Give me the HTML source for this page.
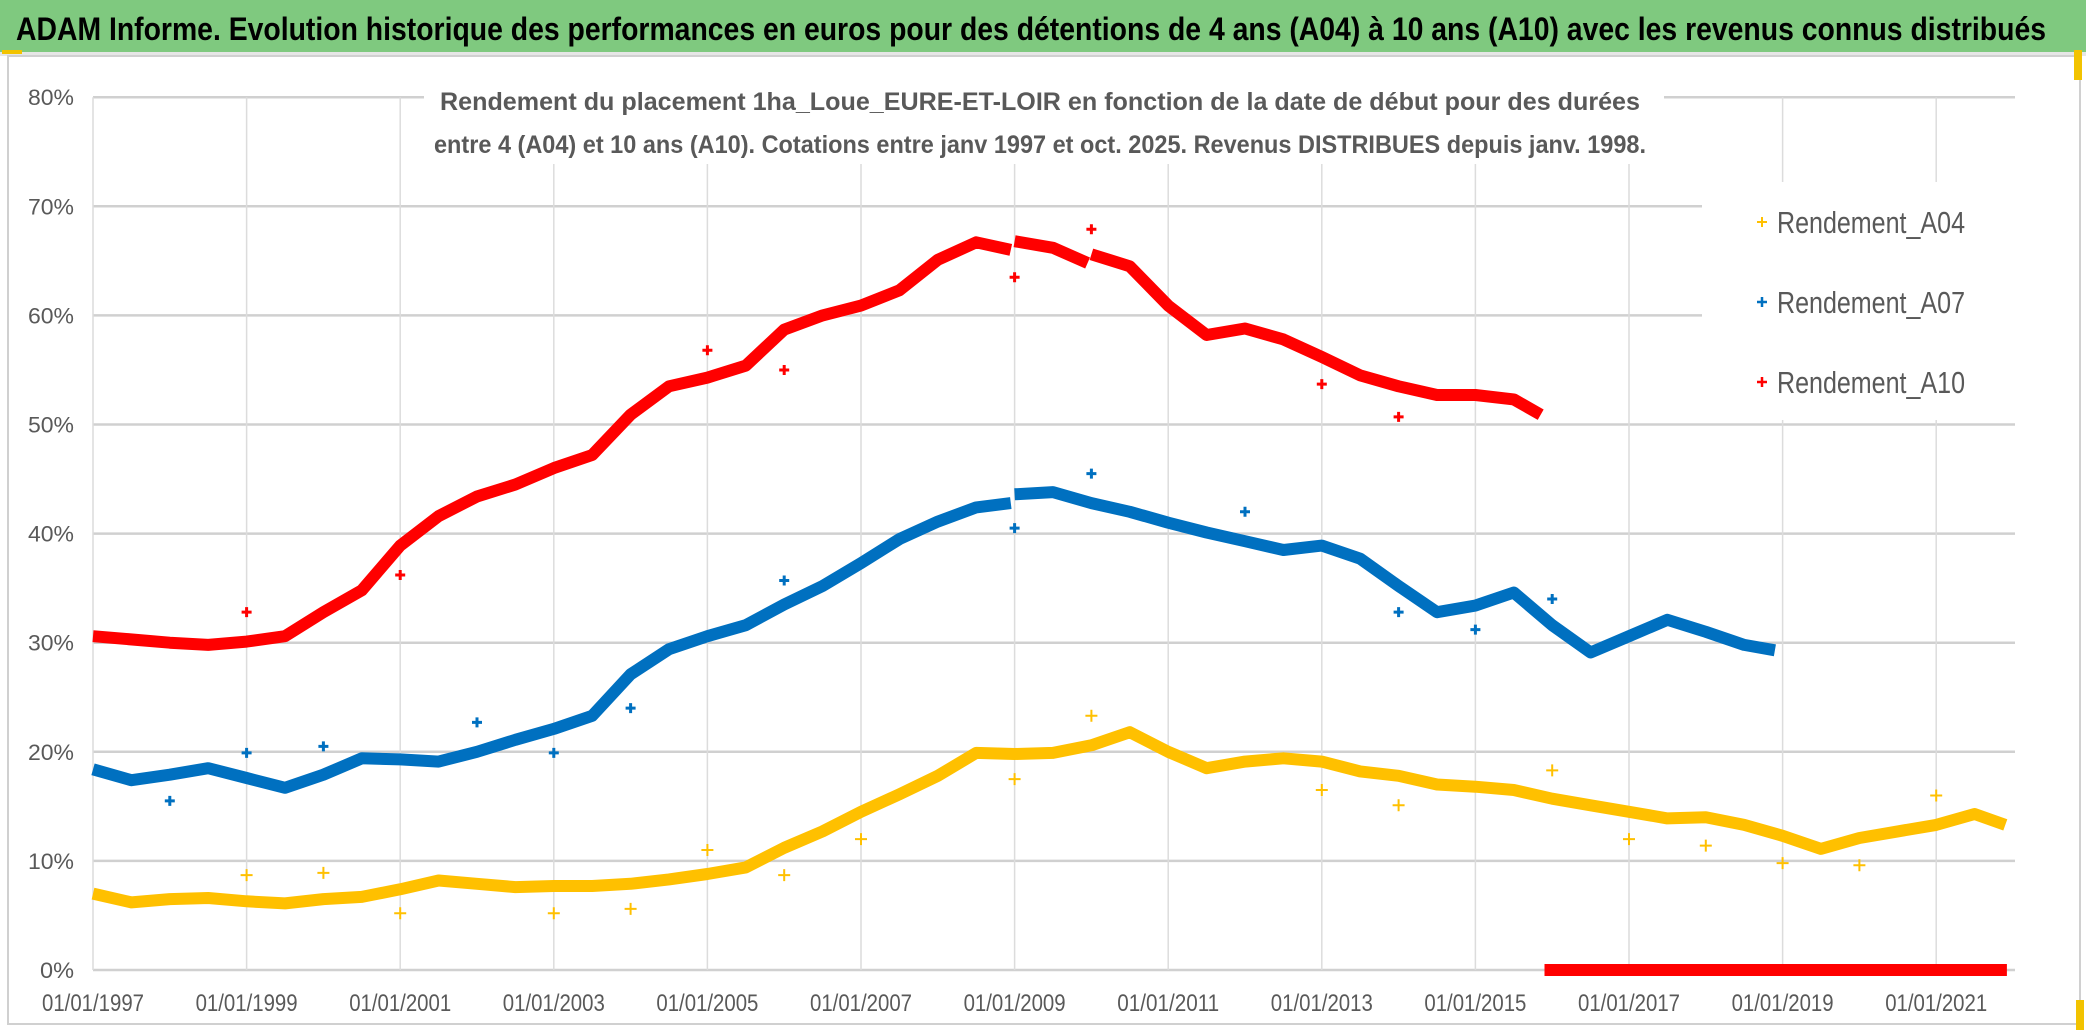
<!DOCTYPE html>
<html><head><meta charset="utf-8">
<style>
html,body{margin:0;padding:0;background:#fff;}
svg{display:block;}
text{font-family:"Liberation Sans",sans-serif;}
</style></head>
<body>
<svg id="chart" width="2086" height="1032" viewBox="0 0 2086 1032" xmlns="http://www.w3.org/2000/svg">
  <rect x="0" y="0" width="2086" height="1032" fill="#fff"/>
  <rect x="0" y="0" width="2086" height="52" fill="#7fc97f"/>
  <rect x="0" y="52" width="2086" height="4" fill="#e6e6e6"/>
  <rect x="2" y="50" width="20" height="4" fill="#f2c300"/>
  <text x="16" y="40" font-size="32" font-weight="bold" fill="#000" textLength="2030" lengthAdjust="spacingAndGlyphs">ADAM Informe. Evolution historique des performances en euros pour des détentions de 4 ans (A04) à 10 ans (A10) avec les revenus connus distribués</text>
  <rect x="8" y="56" width="2072" height="968" fill="none" stroke="#d0d0d0" stroke-width="2"/>
  <rect x="2074" y="50" width="8" height="30" fill="#f2c300"/>
  <rect x="2076" y="1000" width="8" height="30" fill="#f2c300"/>
  <g id="grid"></g>
  <g id="axes"></g>
  <g id="series"></g>
  <g id="overlay">
    <rect x="424" y="78" width="1240" height="86" fill="#fff"/>
    <text x="1040" y="110" font-size="25" font-weight="bold" fill="#595959" text-anchor="middle" textLength="1200" lengthAdjust="spacingAndGlyphs">Rendement du placement 1ha_Loue_EURE-ET-LOIR en fonction de la date de début pour des durées</text>
    <text x="1040" y="153" font-size="25" font-weight="bold" fill="#595959" text-anchor="middle" textLength="1212" lengthAdjust="spacingAndGlyphs">entre 4 (A04) et 10 ans (A10). Cotations entre janv 1997 et oct. 2025. Revenus DISTRIBUES depuis janv. 1998.</text>
    <g>
      <rect x="1702" y="182" width="314" height="238" fill="#fff"/>
      <g>
        <path d="M1757 222h10M1762 217v10" stroke="#ffc000" stroke-width="2"/>
        <text x="1777" y="233" font-size="31" fill="#595959" textLength="188" lengthAdjust="spacingAndGlyphs">Rendement_A04</text>
      </g>
      <g>
        <path d="M1757 302h10M1762 297v10" stroke="#0070c0" stroke-width="2.5"/>
        <text x="1777" y="313" font-size="31" fill="#595959" textLength="188" lengthAdjust="spacingAndGlyphs">Rendement_A07</text>
      </g>
      <g>
        <path d="M1757 382h10M1762 377v10" stroke="#ff0000" stroke-width="2.5"/>
        <text x="1777" y="393" font-size="31" fill="#595959" textLength="188" lengthAdjust="spacingAndGlyphs">Rendement_A10</text>
      </g>
    </g>
  </g>
</svg>
<script>
// ---- data ----
const yTicks = [0,10,20,30,40,50,60,70,80];
const xTickYears = [1997,1999,2001,2003,2005,2007,2009,2011,2013,2015,2017,2019,2021];
const a10Years = [1997,1998,1998.5,1999,1999.5,2000,2000.5,2001,2001.5,2002,2002.5,2003,2003.5,2004,2004.5,2005,2005.5,2006,2006.5,2007,2007.5,2008,2008.5,2008.95,2009.0,2009.5,2009.95,2010.0,2010.5,2011,2011.5,2012,2012.5,2013,2013.5,2014,2014.5,2015,2015.5,2015.85];
const a10Values = [30.6,30.0,29.8,30.1,30.6,32.8,34.8,38.9,41.6,43.4,44.5,46.0,47.2,50.9,53.5,54.3,55.4,58.7,60.0,60.9,62.3,65.1,66.7,66.0,66.8,66.2,64.8,65.6,64.5,60.9,58.2,58.8,57.8,56.2,54.5,53.5,52.7,52.7,52.3,50.9];
const a10OutYears = [1999,2001,2005,2006,2009,2010,2013,2014];
const a10OutValues = [32.8,36.2,56.8,55.0,63.5,67.9,53.7,50.7];
const a10ZeroYears = [2015.9,2021.92];
const a10ZeroValues = [0,0];
const a07Years = [1997,1997.5,1998,1998.5,1999,1999.5,2000,2000.5,2001,2001.5,2002,2002.5,2003,2003.5,2004,2004.5,2005,2005.5,2006,2006.5,2007,2007.5,2008,2008.5,2008.95,2009.0,2009.5,2010,2010.5,2011,2011.5,2012,2012.5,2013,2013.5,2014,2014.5,2015,2015.5,2016,2016.5,2017,2017.5,2018,2018.5,2018.9];
const a07Values = [18.4,17.4,17.9,18.5,17.6,16.7,17.9,19.4,19.3,19.1,20.0,21.1,22.1,23.3,27.1,29.4,30.6,31.6,33.5,35.2,37.3,39.5,41.1,42.4,42.8,43.6,43.8,42.8,42.0,41.0,40.1,39.3,38.5,38.9,37.7,35.2,32.8,33.4,34.6,31.6,29.1,30.6,32.1,31.0,29.8,29.3];
const a07OutYears = [1998,1999,2000,2002,2003,2004,2006,2009,2010,2012,2014,2015,2016];
const a07OutValues = [15.5,19.9,20.5,22.7,19.9,24.0,35.7,40.5,45.5,42.0,32.8,31.2,34.0];
const a04Years = [1997,1997.5,1998,1998.5,1999,1999.5,2000,2000.5,2001,2001.5,2002,2002.5,2003,2003.5,2004,2004.5,2005,2005.5,2006,2006.5,2007,2007.5,2008,2008.5,2009,2009.5,2010,2010.5,2011,2011.5,2012,2012.5,2013,2013.5,2014,2014.5,2015,2015.5,2016,2016.5,2017,2017.5,2018,2018.5,2019,2019.5,2020,2020.5,2021,2021.5,2021.9];
const a04Values = [7.0,6.2,6.5,6.6,6.3,6.1,6.5,6.7,7.4,8.2,7.9,7.6,7.7,7.7,7.9,8.3,8.8,9.4,11.2,12.7,14.5,16.1,17.8,19.9,19.8,19.9,20.6,21.8,20.0,18.5,19.1,19.4,19.1,18.2,17.8,17.0,16.8,16.5,15.7,15.1,14.5,13.9,14.0,13.3,12.3,11.1,12.1,12.7,13.3,14.3,13.3];
const a04OutYears = [1999,2000,2001,2003,2004,2005,2006,2007,2009,2010,2013,2014,2016,2017,2018,2019,2020,2021];
const a04OutValues = [8.7,8.9,5.2,5.2,5.6,11.0,8.7,12.0,17.5,23.3,16.5,15.1,18.3,12.0,11.4,9.8,9.6,16.0];

// ---- axes ----
const X0 = 93, PX_PER_YEAR = 76.8, Y0 = 970, PX_PER_PCT = 10.91, XEND = 2015;
const xs = yr => X0 + (yr - 1997) * PX_PER_YEAR;
const ys = p => Y0 - p * PX_PER_PCT;
const NS = "http://www.w3.org/2000/svg";
function mk(tag, attrs, parent){ const e=document.createElementNS(NS,tag); for(const k in attrs) e.setAttribute(k,attrs[k]); parent.appendChild(e); return e; }

const grid = document.getElementById('grid');
const axes = document.getElementById('axes');
const series = document.getElementById('series');

yTicks.forEach(t => {
  const l = mk('line',{x1:X0,x2:XEND,y1:ys(t),y2:ys(t),stroke:'#d0d0d0','stroke-width':2.5},grid);
  
  
  const tx = mk('text',{x:74,y:ys(t)+8,'font-size':22,fill:'#595959','text-anchor':'end',textLength:t===0?34:46,lengthAdjust:'spacingAndGlyphs'},axes);
  tx.textContent = t + '%';
  
  
});
xTickYears.forEach(yr => {
  const l = mk('line',{x1:xs(yr),x2:xs(yr),y1:ys(80),y2:ys(0),stroke:'#dcdcdc','stroke-width':1.5},grid);
  
  
  const tx = mk('text',{x:xs(yr),y:1011,'font-size':24,fill:'#595959','text-anchor':'middle',textLength:102,lengthAdjust:'spacingAndGlyphs'},axes);
  tx.textContent = '01/01/' + yr;
  
  
});

function band(years, vals, color, name, width){
  const pts = years.map((y,i)=>xs(y).toFixed(1)+','+ys(vals[i]).toFixed(1)).join(' ');
  const pl = mk('polyline',{points:pts,fill:'none',stroke:color,'stroke-width':width,'stroke-linejoin':'round','stroke-linecap':'butt'},series);
  
  
}
function breakBand(years, vals, color, name, width, gaps){
  let start = 0;
  gaps.concat([years.length]).forEach((g,k)=>{
    band(years.slice(start,g), vals.slice(start,g), color, name+'-part-'+k, width);
    start = g;
  });
}
function crosses(years, vals, color, name, size, sw){
  years.forEach((y,i)=>{
    const cx = xs(y), cy = ys(vals[i]);
    const p = mk('path',{d:`M${cx-size} ${cy}h${2*size}M${cx} ${cy-size}v${2*size}`,stroke:color,'stroke-width':sw},series);
    
    
  });
}

band(a04Years,a04Values,'#ffc000','series-a04-line',12);
crosses(a04OutYears,a04OutValues,'#ffc000','series-a04-outlier',6,2);
breakBand(a07Years,a07Values,'#0070c0','series-a07-line',12,[25]);
crosses(a07OutYears,a07OutValues,'#0070c0','series-a07-outlier',5,3);
breakBand(a10Years,a10Values,'#ff0000','series-a10-line',12,[24,27]);
crosses(a10OutYears,a10OutValues,'#ff0000','series-a10-outlier',5,3);
band(a10ZeroYears,a10ZeroValues,'#ff0000','series-a10-zero-line',12);
</script>
</body></html>
